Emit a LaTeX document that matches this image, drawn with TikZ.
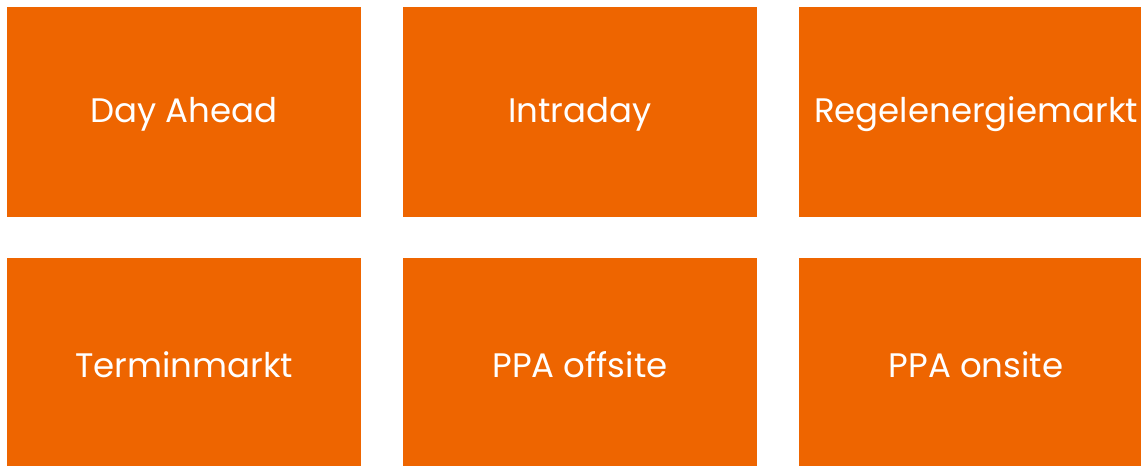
\documentclass[tikz,border=0pt]{standalone}
\usepackage{fontspec}
\setmainfont{Poppins}
\definecolor{boxorange}{HTML}{EE6500}
\begin{document}
\begin{tikzpicture}[x=1pt,y=-1pt,
  mbox/.style={fill=boxorange,draw=none,minimum width=354pt,minimum height=210pt,inner sep=0pt,
    text=white,font=\fontsize{34}{40}\selectfont,anchor=center}]
\useasboundingbox (0,0) rectangle (1141,466);
\node[mbox] (da) at (184,112) {};
\node[mbox] (id) at (580,112) {};
\node[mbox] (re) at (976,112) {};
\node[mbox] (tm) at (184,363) {};
\node[mbox] (pf) at (580,363) {};
\node[mbox] (po) at (976,363) {};
\tikzset{mlabel/.style={text=white,font=\fontsize{34}{40}\selectfont,inner sep=0pt,anchor=center}}
\node[mlabel] (tda) at ([yshift=-2pt]da.center) {Day Ahead};
\node[mlabel] (tid) at ([yshift=-2pt]id.center) {Intraday};
\node[mlabel] (tre) at ([yshift=-2pt]re.center) {Regelenergiemarkt};
\node[mlabel] (ttm) at ([yshift=-2pt]tm.center) {Terminmarkt};
\node[mlabel] (tpf) at ([yshift=-2pt]pf.center) {PPA offsite};
\node[mlabel] (tpo) at ([yshift=-2pt]po.center) {PPA onsite};
\end{tikzpicture}
\end{document}
